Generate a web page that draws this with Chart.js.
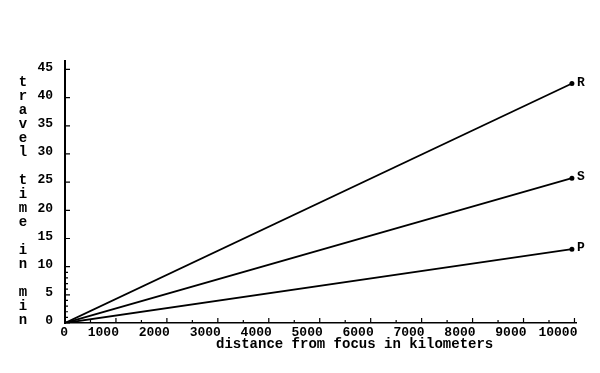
<!DOCTYPE html>
<html>
<head>
<meta charset="utf-8">
<script src="https://cdn.jsdelivr.net/npm/chart.js@4/dist/chart.umd.min.js"></script>
<style>
  html, body { margin: 0; padding: 0; background: #fff; }
  #wrap { position: relative; width: 600px; height: 373px; }
  canvas { position: absolute; left: 0; top: 0; }
  .ttl { position: absolute; font-family: "Liberation Mono", "DejaVu Sans Mono", monospace; font-weight: bold; font-size: 14px; color: #000; white-space: pre; }
  #ytitle { left: 17px; top: 75px; line-height: 14px; width: 12px; text-align: center; }
  #xtitle { left: 216px; top: 336px; line-height: 17px; }
</style>
</head>
<body>
<div id="wrap">
  <canvas id="c" width="600" height="373"></canvas>
  <div id="ytitle" class="ttl"></div>
  <div id="xtitle" class="ttl"></div>
</div>
<script>
// ---- data ----
const distances = [0, 9950];            // km
const timesR = [0, 42.5];               // min
const timesS = [0, 25.7];
const timesP = [0, 13.1];
const waveLabels = ['R', 'S', 'P'];
const xTickValues = [0, 1000, 2000, 3000, 4000, 5000, 6000, 7000, 8000, 9000, 10000];
const xMinorTicks = [500, 1500, 2500, 3500, 4500, 5500, 6500, 7500, 8500, 9500];
const yTickValues = [0, 5, 10, 15, 20, 25, 30, 35, 40, 45];
const yMinorTicks = [1, 2, 3, 4, 6, 7, 8, 9];
const xTitle = 'distance from focus in kilometers';
const yTitle = 'travel time in min';

// axis titles as real text
document.getElementById('xtitle').textContent = xTitle;
document.getElementById('ytitle').innerHTML = yTitle.split('').map(ch => ch === ' ' ? '&nbsp;' : ch).join('<br>');

const FONT = '"Liberation Mono", "DejaVu Sans Mono", monospace';

function pts(ys) { return distances.map((d, i) => ({ x: d, y: ys[i] })); }

const tickPlugin = {
  id: 'inwardTicks',
  afterDraw(chart) {
    const ctx = chart.ctx;
    const xs = chart.scales.x, ys = chart.scales.y;
    const bottom = xs.top, left = ys.right;
    ctx.save();
    ctx.strokeStyle = '#000';
    ctx.lineWidth = 1.2;
    ctx.beginPath();
    xTickValues.forEach(v => { const p = xs.getPixelForValue(v); ctx.moveTo(p, bottom); ctx.lineTo(p, bottom - 5); });
    xMinorTicks.forEach(v => { const p = xs.getPixelForValue(v); ctx.moveTo(p, bottom); ctx.lineTo(p, bottom - 3); });
    yTickValues.forEach(v => { const p = ys.getPixelForValue(v); ctx.moveTo(left, p); ctx.lineTo(left + 5, p); });
    yMinorTicks.forEach(v => { const p = ys.getPixelForValue(v); ctx.moveTo(left, p); ctx.lineTo(left + 3, p); });
    ctx.stroke();
    ctx.restore();
  },
  afterDatasetsDraw(chart) {
    const ctx = chart.ctx;
    ctx.save();
    ctx.fillStyle = '#000';
    ctx.font = 'bold 13px ' + FONT;
    ctx.textAlign = 'left';
    ctx.textBaseline = 'middle';
    chart.data.datasets.forEach((ds, i) => {
      const meta = chart.getDatasetMeta(i);
      const el = meta.data[meta.data.length - 1];
      ctx.fillText(ds.label, el.x + 5, el.y - 1);
    });
    ctx.restore();
  }
};

const mkDs = (label, ys) => ({
  label: label,
  data: pts(ys),
  showLine: true,
  borderColor: '#000',
  backgroundColor: '#000',
  borderWidth: 1.8,
  pointRadius: [0, 1.6],
  pointHoverRadius: 0,
  fill: false,
  tension: 0
});

new Chart(document.getElementById('c'), {
  type: 'scatter',
  data: {
    datasets: [mkDs(waveLabels[0], timesR), mkDs(waveLabels[1], timesS), mkDs(waveLabels[2], timesP)]
  },
  options: {
    responsive: false,
    animation: false,
    devicePixelRatio: 1,
    layout: { padding: { top: 61, right: 24, left: 0, bottom: 0 } },
    plugins: { legend: { display: false }, tooltip: { enabled: false }, title: { display: false } },
    scales: {
      x: {
        type: 'linear',
        min: 0,
        max: 10030,
        afterBuildTicks: s => { s.ticks = xTickValues.map(v => ({ value: v })); },
        afterFit: s => { s.height = 50; },
        grid: { display: false, drawTicks: false },
        border: { display: true, color: '#000', width: 1.5 },
        ticks: {
          color: '#000',
          font: { family: FONT, weight: 'bold', size: 13 },
          align: 'end',
          labelOffset: 3,
          padding: 2,
          maxRotation: 0,
          autoSkip: false,
          callback: v => String(v)
        }
      },
      y: {
        type: 'linear',
        min: 0,
        max: 46.5,
        afterBuildTicks: s => { s.ticks = yTickValues.map(v => ({ value: v })); },
        afterFit: s => { s.width = 65; },
        grid: { display: false, drawTicks: false },
        border: { display: true, color: '#000', width: 2 },
        ticks: {
          color: '#000',
          font: { family: FONT, weight: 'bold', size: 13 },
          padding: 12,
          labelOffset: -2,
          autoSkip: false,
          callback: v => String(v)
        }
      }
    }
  },
  plugins: [tickPlugin]
});
</script>
</body>
</html>
